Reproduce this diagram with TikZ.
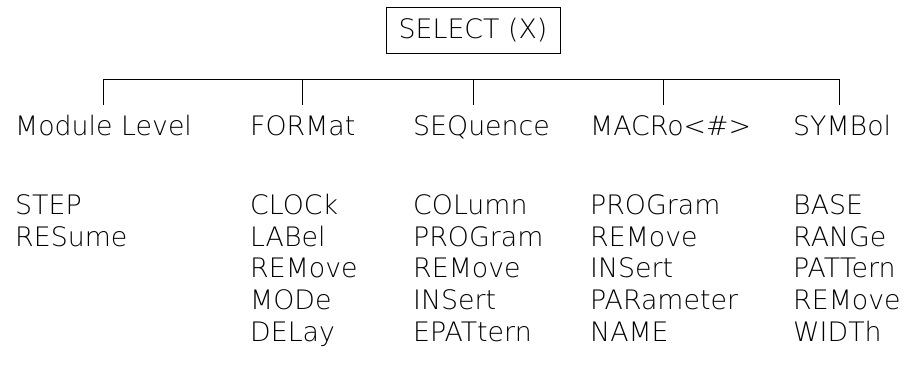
\documentclass[tikz,border=0pt]{standalone}
\usepackage{fontspec}
\setmainfont{DejaVu Sans ExtraLight}
\begin{document}
\begin{tikzpicture}[x=1pt,y=1pt,
  txt/.style={anchor=base west,inner sep=0pt,font=\fontsize{26.8}{30}\selectfont},
  ttl/.style={draw,line width=0.9pt,inner sep=0pt,minimum width=174pt,minimum height=46pt,font=\fontsize{26.8}{30}\selectfont},
  tree/.style={line width=0.9pt}]
\useasboundingbox (0,0) rectangle (918,-387);
% title
\node[ttl] (sel) at (473,-30) {SELECT (X)};
% bus and drops
\foreach \i/\x in {1/103,2/302,3/473,4/663,5/839}{
  \coordinate (b\i) at (\x,-79);
  \coordinate (t\i) at (\x,-105);
}
\draw[tree] (b1) -- (b5);
\foreach \i in {1,...,5}{\draw[tree] (b\i) -- (t\i);}
% headers
\node[txt] (h1) at (15,-136) {Module Level};
\node[txt] (h2) at (250,-136) {FORMat};
\node[txt] (h3) at (413,-136) {SEQuence};
\node[txt] (h4) at (590,-136) {MACRo<\#>};
\node[txt] (h5) at (793,-136) {SYMBol};
% items
\node[txt] (a1) at (15,-214.5) {STEP};
\node[txt] (a2) at (15,-246.5) {RESume};
\node[txt] (f1) at (250,-214.5) {CLOCk};
\node[txt] (f2) at (250,-246.5) {LABel};
\node[txt] (f3) at (250,-278) {REMove};
\node[txt] (f4) at (250,-309.5) {MODe};
\node[txt] (f5) at (250,-341.5) {DELay};
\node[txt] (s1) at (413,-214.5) {COLumn};
\node[txt] (s2) at (413,-246.5) {PROGram};
\node[txt] (s3) at (413,-278) {REMove};
\node[txt] (s4) at (413,-309.5) {INSert};
\node[txt] (s5) at (413,-341.5) {EPATtern};
\node[txt] (m1) at (590,-214.5) {PROGram};
\node[txt] (m2) at (590,-246.5) {REMove};
\node[txt] (m3) at (590,-278) {INSert};
\node[txt] (m4) at (590,-309.5) {PARameter};
\node[txt] (m5) at (590,-341.5) {NAME};
\node[txt] (y1) at (793,-214.5) {BASE};
\node[txt] (y2) at (793,-246.5) {RANGe};
\node[txt] (y3) at (793,-278) {PATTern};
\node[txt] (y4) at (793,-309.5) {REMove};
\node[txt] (y5) at (793,-341.5) {WIDTh};
\end{tikzpicture}
\end{document}
